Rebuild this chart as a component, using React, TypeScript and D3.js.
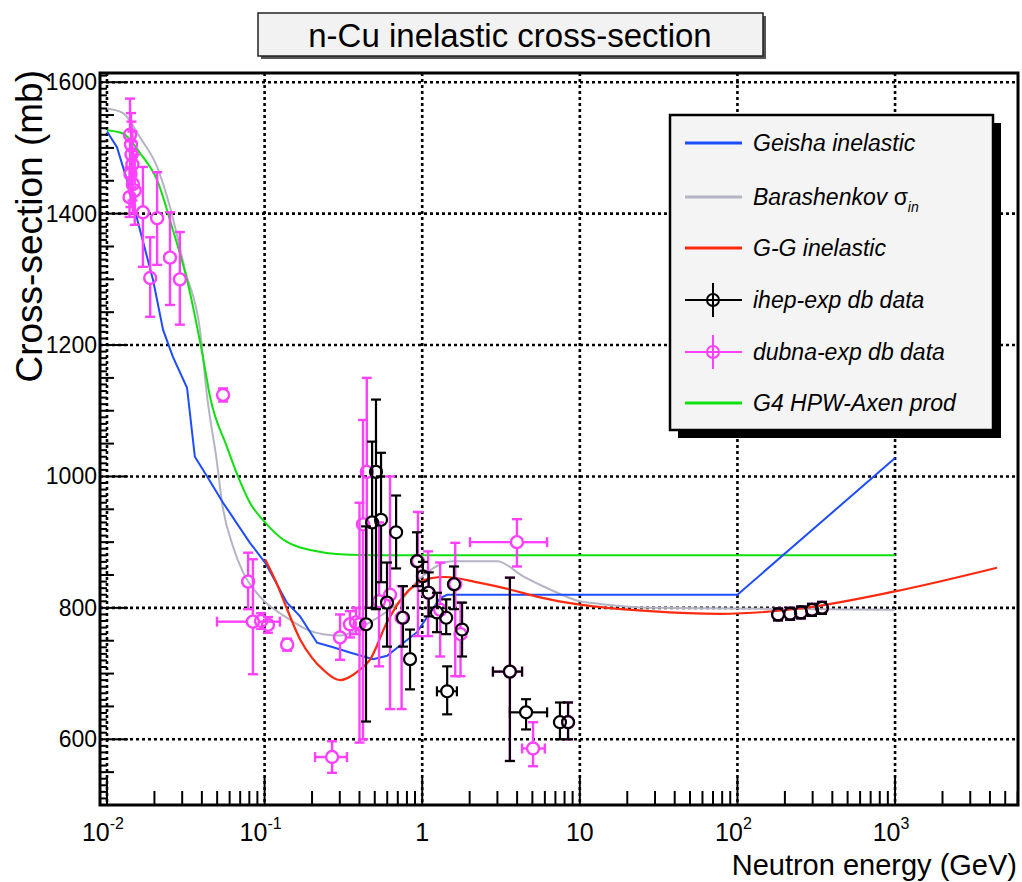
import React from "react";
import * as d3 from "d3";

// ---- data ----
const xDecades = [0.01, 0.1, 1, 10, 100, 1000];
const xDecadeLabels = [["10", "-2"], ["10", "-1"], ["1", ""], ["10", ""], ["10", "2"], ["10", "3"]];
const yTickValues = [600, 800, 1000, 1200, 1400, 1600];

// [energy GeV, cross-section mb]
const geishaCurve = [
  [0.01, 1525], [0.01157, 1501], [0.0134, 1451], [0.0162, 1375], [0.0196, 1299],
  [0.0227, 1223], [0.0262, 1182], [0.0322, 1135], [0.0361, 1030], [0.0432, 1000],
  [0.0545, 960], [0.0807, 899], [0.1007, 869], [0.1387, 808], [0.168, 787],
  [0.215, 747], [0.272, 740], [0.348, 732], [0.488, 722], [0.598, 727],
  [0.927, 763], [1.3, 815], [1.44, 820], [100, 820], [1000, 1028],
];
const barashenkovCurve = [
  [0.01, 1560], [0.01264, 1553], [0.0162, 1516], [0.0208, 1471], [0.0251, 1410],
  [0.0313, 1314], [0.0389, 1223], [0.0432, 1121], [0.0499, 1021], [0.0537, 960],
  [0.0631, 893], [0.073, 854], [0.0935, 817], [0.145, 782], [0.186, 767],
  [0.235, 760], [0.301, 758], [0.466, 778], [0.72, 810], [0.97, 845],
  [1.57, 871], [2.99, 871], [4.37, 848], [6.47, 828], [10, 810], [13.4, 806],
  [27.9, 800], [1000, 797],
];
const ggCurve = [
  [0.1007, 874], [0.12, 836], [0.14, 796], [0.168, 752], [0.2, 724], [0.235, 706],
  [0.301, 690], [0.403, 706], [0.466, 721], [0.598, 778], [0.755, 817],
  [1.12, 845], [1.4, 847], [2.33, 838], [3.6, 828], [5.58, 816], [10, 805],
  [27.9, 795], [77.6, 791], [249, 799], [1000, 825], [4437, 861],
];
const hpwCurve = [
  [0.01, 1527], [0.01264, 1522], [0.0162, 1492], [0.0208, 1451], [0.0262, 1375],
  [0.0322, 1299], [0.0406, 1182], [0.0451, 1121], [0.0577, 1045], [0.0678, 1000],
  [0.0807, 960], [0.1007, 930], [0.131, 904], [0.168, 892], [0.348, 881],
  [0.72, 880], [1000, 880],
];

// [energy, value, low, high, xLow?, xHigh?]
const dubnaPoints = [
  [0.014, 1520, 1470, 1575], [0.0142, 1505, 1455, 1553], [0.0143, 1490, 1440, 1540],
  [0.0145, 1475, 1420, 1525], [0.0141, 1460, 1410, 1510], [0.0146, 1445, 1400, 1495],
  [0.0139, 1425, 1395, 1470], [0.015, 1435, 1383, 1490], [0.0169, 1402, 1319, 1471],
  [0.0188, 1302, 1243, 1364], [0.0208, 1393, 1322, 1463], [0.0251, 1333, 1261, 1402],
  [0.029, 1300, 1231, 1372], [0.0545, 1124, 1114, 1134], [0.0786, 840, 798, 884],
  [0.0843, 779, 699, 874, 0.0499, 0.125], [0.095, 780, 768, 792], [0.105, 774, 762, 786],
  [0.139, 744, 735, 753], [0.268, 573, 549, 597, 0.209, 0.333], [0.301, 755, 721, 790],
  [0.348, 775, 755, 795], [0.38, 778, 760, 800], [0.4, 775, 595, 960],
  [0.421, 927, 600, 1086], [0.445, 1007, 800, 1150], [0.532, 810, 711, 930],
  [0.625, 820, 646, 1000], [0.74, 785, 646, 833], [0.94, 871, 757, 946],
  [1.09, 823, 757, 886], [1.3, 797, 726, 869], [1.62, 836, 696, 899],
  [1.75, 760, 696, 808], [3.99, 900, 863, 935, 2.01, 6.2], [3.6, 703, 567, 846, 2.81, 4.3],
  [5.05, 586, 559, 626, 4.3, 6.0], [8.42, 626, 600, 656],
  [181, 790, 785, 795], [216, 791, 786, 796], [253, 793, 788, 798], [297, 797, 792, 802], [344, 800, 795, 805],
];
const ihepPoints = [
  [0.44, 775, 627, 924], [0.481, 930, 800, 1053], [0.509, 1007, 798, 1117],
  [0.548, 934, 839, 1036], [0.598, 808, 741, 869], [0.683, 915, 860, 971],
  [0.755, 785, 741, 833], [0.837, 722, 676, 767], [0.927, 871, 833, 915],
  [1.01, 848, 826, 870], [1.1, 823, 787, 854], [1.24, 793, 763, 823],
  [1.42, 785, 760, 813], [1.44, 673, 638, 711, 1.24, 1.66], [1.59, 836, 798, 863],
  [1.79, 767, 726, 808], [3.6, 703, 567, 846, 2.81, 4.3], [4.56, 641, 615, 661, 3.6, 6.2],
  [7.48, 626, 600, 656], [8.42, 626, 600, 656],
  [181, 790, 785, 795], [216, 791, 786, 796], [253, 793, 788, 798], [297, 797, 792, 802], [344, 800, 795, 805],
];

const legendItems = [
  { label: "Geisha inelastic", color: "#1e4cff", kind: "line" },
  { label: "Barashenkov ", sub: "in", color: "#b4b4c4", kind: "line" },
  { label: "G-G inelastic", color: "#ff2a10", kind: "line" },
  { label: "ihep-exp db data", color: "#000000", kind: "marker" },
  { label: "dubna-exp db data", color: "#ff40ff", kind: "marker" },
  { label: "G4 HPW-Axen prod", color: "#10e010", kind: "line" },
];

const FONT = "'Liberation Sans', Arial, Helvetica, sans-serif";
const frame = { left: 100, top: 73, right: 1018, bottom: 805 };

const x = d3.scaleLog().domain([0.00903, 6026]).range([frame.left, frame.right]);
const y = d3.scaleLinear().domain([500, 1614]).range([frame.bottom, frame.top]);

const smooth = d3.line().x((d) => x(d[0])).y((d) => y(d[1])).curve(d3.curveMonotoneX);
const straight = d3.line().x((d) => x(d[0])).y((d) => y(d[1]));

function ErrPoint({ d, color, sw }) {
  const [e, v, lo, hi, xlo, xhi] = d;
  const cx = x(e), cy = y(v), r = 6, cap = 5;
  const yt = Math.min(y(hi), cy - r);
  const yb = Math.max(y(lo), cy + r);
  return (
    <g stroke={color} strokeWidth={sw} fill="none">
      <line x1={cx} x2={cx} y1={yt} y2={cy - r} />
      <line x1={cx} x2={cx} y1={cy + r} y2={yb} />
      <line x1={cx - cap} x2={cx + cap} y1={yt} y2={yt} />
      <line x1={cx - cap} x2={cx + cap} y1={yb} y2={yb} />
      {xlo !== undefined && (
        <g>
          <line x1={Math.min(x(xlo), cx - r)} x2={cx - r} y1={cy} y2={cy} />
          <line x1={cx + r} x2={Math.max(x(xhi), cx + r)} y1={cy} y2={cy} />
          <line x1={Math.min(x(xlo), cx - r)} x2={Math.min(x(xlo), cx - r)} y1={cy - cap} y2={cy + cap} />
          <line x1={Math.max(x(xhi), cx + r)} x2={Math.max(x(xhi), cx + r)} y1={cy - cap} y2={cy + cap} />
        </g>
      )}
      <circle cx={cx} cy={cy} r={r} />
    </g>
  );
}

export default function App() {
  const yMinor = d3.range(500, 1611, 10);
  const xMinor = [];
  [0.01, 0.1, 1, 10, 100, 1000].forEach((dec) => {
    for (let k = 2; k <= 9; k++) if (dec * k < 6026) xMinor.push(dec * k);
  });

  return (
    <div style={{ position: "absolute", left: 0, top: 0 }}>
      <svg width={1022} height={882} style={{ display: "block", background: "#fff" }}>
        {/* title box */}
        <rect x={261} y={16} width={505} height={43} fill="#555" />
        <rect x={258} y={13} width={505} height={43} fill="#f2f2f2" stroke="#222" strokeWidth={1.5} />
        <text x={510} y={47} textAnchor="middle" fontFamily={FONT} fontSize={33}>
          n-Cu inelastic cross-section
        </text>

        {/* grid */}
        <g stroke="#000" strokeWidth={2.6} strokeDasharray="3 3">
          {xDecades.map((d) => (
            <line key={d} x1={x(d)} x2={x(d)} y1={frame.top} y2={frame.bottom} />
          ))}
          {yTickValues.map((v) => (
            <line key={v} x1={frame.left} x2={frame.right} y1={y(v)} y2={y(v)} />
          ))}
        </g>

        {/* curves */}
        <path d={smooth(barashenkovCurve)} fill="none" stroke="#b4b4c4" strokeWidth={2} />
        <path d={smooth(hpwCurve)} fill="none" stroke="#10e010" strokeWidth={2} />
        <path d={straight(geishaCurve)} fill="none" stroke="#1e4cff" strokeWidth={2} />
        <path d={smooth(ggCurve)} fill="none" stroke="#ff2a10" strokeWidth={2.2} />

        {/* data */}
        {dubnaPoints.map((d, i) => (
          <ErrPoint key={"d" + i} d={d} color="#ff40ff" sw={2.4} />
        ))}
        {ihepPoints.map((d, i) => (
          <ErrPoint key={"i" + i} d={d} color="#000" sw={2.2} />
        ))}

        {/* frame and ticks */}
        <rect x={frame.left} y={frame.top} width={frame.right - frame.left} height={frame.bottom - frame.top}
          fill="none" stroke="#000" strokeWidth={3} />
        <g stroke="#000" strokeWidth={2}>
          {yMinor.map((v) => {
            const len = v % 200 === 0 ? 28 : v % 50 === 0 ? 14 : 7;
            return <line key={v} x1={frame.left} x2={frame.left + len} y1={y(v)} y2={y(v)} />;
          })}
          {xDecades.map((d) => (
            <line key={d} x1={x(d)} x2={x(d)} y1={frame.bottom} y2={frame.bottom - 28} />
          ))}
          {xMinor.map((d) => (
            <line key={d} x1={x(d)} x2={x(d)} y1={frame.bottom} y2={frame.bottom - 14} />
          ))}
        </g>

        {/* axis labels */}
        <g fontFamily={FONT} fontSize={23}>
          {yTickValues.map((v) => (
            <text key={v} x={97} y={y(v) + 8} textAnchor="end">{v}</text>
          ))}
        </g>
        <g fontFamily={FONT} fontSize={25}>
          {xDecades.map((d, i) => (
            <text key={d} x={x(d) + (xDecadeLabels[i][1] ? -4 : 0)} y={841} textAnchor="middle">
              {xDecadeLabels[i][0]}
              {xDecadeLabels[i][1] && (
                <tspan fontSize={16} dy={-12}>{xDecadeLabels[i][1]}</tspan>
              )}
            </text>
          ))}
        </g>
        <text x={1017} y={875} textAnchor="end" fontFamily={FONT} fontSize={29}>
          Neutron energy (GeV)
        </text>
        <text transform="translate(42,70) rotate(-90)" textAnchor="end" fontFamily={FONT} fontSize={37}>
          Cross-section (mb)
        </text>

        {/* legend */}
        <rect x={678} y={123} width={323} height={315} fill="#000" />
        <rect x={670} y={115} width={323} height={315} fill="#f4f4f4" stroke="#000" strokeWidth={2.5} />
        {legendItems.map((it, i) => {
          const ly = [143, 197, 248, 300, 352, 403][i];
          return (
            <g key={it.label}>
              <line x1={685} x2={742} y1={ly} y2={ly} stroke={it.color} strokeWidth={it.kind === "line" ? 3 : 2} />
              {it.kind === "marker" && (
                <g stroke={it.color} strokeWidth={2} fill="none">
                  <line x1={713} x2={713} y1={ly - 17} y2={ly + 17} />
                  <circle cx={713} cy={ly} r={6} />
                </g>
              )}
              <text x={753} y={ly + 8} fontFamily={FONT} fontSize={23} fontStyle="italic">
                {it.label}
                {it.sub && <tspan fontStyle="normal">σ</tspan>}
                {it.sub && <tspan fontSize={14} dy={7}>{it.sub}</tspan>}
              </text>
            </g>
          );
        })}
      </svg>
    </div>
  );
}
